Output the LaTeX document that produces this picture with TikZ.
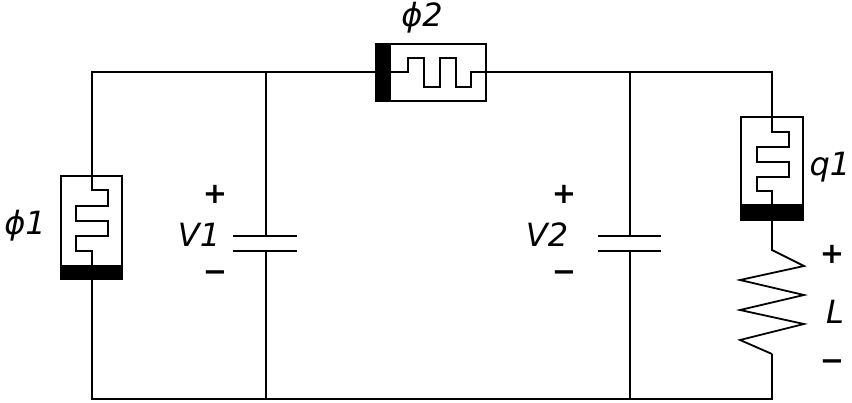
\documentclass[tikz,border=0pt]{standalone}
\usepackage{fontspec}
\setmainfont{DejaVu Sans}
\begin{document}
\begin{tikzpicture}[x=1pt,y=-1pt,
  wire/.style={draw=black,line width=1.8pt,line join=miter},
  bar/.style={fill=black,draw=none},
  lbl/.style={inner sep=0pt,font=\fontsize{32}{34}\selectfont\itshape},
  sign/.style={inner sep=0pt,font=\fontsize{29}{30}\selectfont\bfseries}]
\useasboundingbox (0,0) rectangle (852,403);
\fill[white] (0,0) rectangle (852,403);
% corners and junctions
\coordinate (tl) at (92,72);
\coordinate (tr) at (772,72);
\coordinate (bl) at (92,399);
\coordinate (br) at (772,399);
\coordinate (c1t) at (266,72);
\coordinate (c1b) at (266,399);
\coordinate (c2t) at (630,72);
\coordinate (c2b) at (630,399);
\coordinate (p1a) at (266,236);
\coordinate (p1b) at (266,251);
\coordinate (p2a) at (630,236);
\coordinate (p2b) at (630,251);
% outer loop
\draw[wire] (92,176) -- (tl) -- (c1t) -- (376,72);
\draw[wire] (486,72) -- (c2t) -- (tr) -- (772,117);
\draw[wire] (92,279) -- (bl) -- (c1b) -- (c2b) -- (br) -- (772,354);
% capacitors
\draw[wire] (c1t) -- (p1a);
\draw[wire] (p1b) -- (c1b);
\draw[wire] (233,236) -- (297,236);
\draw[wire] (233,251) -- (297,251);
\draw[wire] (c2t) -- (p2a);
\draw[wire] (p2b) -- (c2b);
\draw[wire] (598,236) -- (661,236);
\draw[wire] (598,251) -- (661,251);
% phi2 valve
\draw[wire] (376,44) rectangle (486,101);
\fill[bar] (376,43) rectangle (391,102);
\draw[wire] (391,72) -- (408,72) -- (408,58) -- (424,58) -- (424,87) -- (440,87) -- (440,58) -- (456,58) -- (456,87) -- (471,87) -- (471,72) -- (486,72);
% phi1 valve
\draw[wire] (61,176) rectangle (122,279);
\fill[bar] (60,265) rectangle (122.9,279.9);
\draw[wire] (92,176) -- (92,190) -- (108,190) -- (108,206) -- (76,206) -- (76,221) -- (108,221) -- (108,236) -- (76,236) -- (76,251) -- (92,251) -- (92,265);
% q1 valve
\draw[wire] (741,117) rectangle (803,220);
\fill[bar] (740,204) rectangle (803.9,220.9);
\draw[wire] (772,117) -- (772,132) -- (789,132) -- (789,147) -- (757,147) -- (757,162) -- (789,162) -- (789,177) -- (757,177) -- (757,191) -- (772,191) -- (772,204);
% inductor
\draw[wire] (772,220) -- (772,250) -- (804,266) -- (740,280) -- (804,295) -- (740,310) -- (804,324) -- (740,340) -- (772,354);
% labels
\node[lbl] (lphi2) at (422,18) {ϕ2};
\node[lbl] (lphi1) at (25,226) {ϕ1};
\node[lbl] (lq1) at (830,167) {q1};
\node[lbl] (lv1) at (199,235) {V1};
\node[lbl] (lv2) at (547,235) {V2};
\node[lbl] (ll) at (835,312) {L};
\node[sign] (p1) at (215,194) {+};
\node[sign] (m1) at (215,276) {−};
\node[sign] (p2) at (564,194) {+};
\node[sign] (m2) at (564,276) {−};
\node[sign] (p3) at (832,254) {+};
\node[sign] (m3) at (832,365) {−};
\end{tikzpicture}
\end{document}
